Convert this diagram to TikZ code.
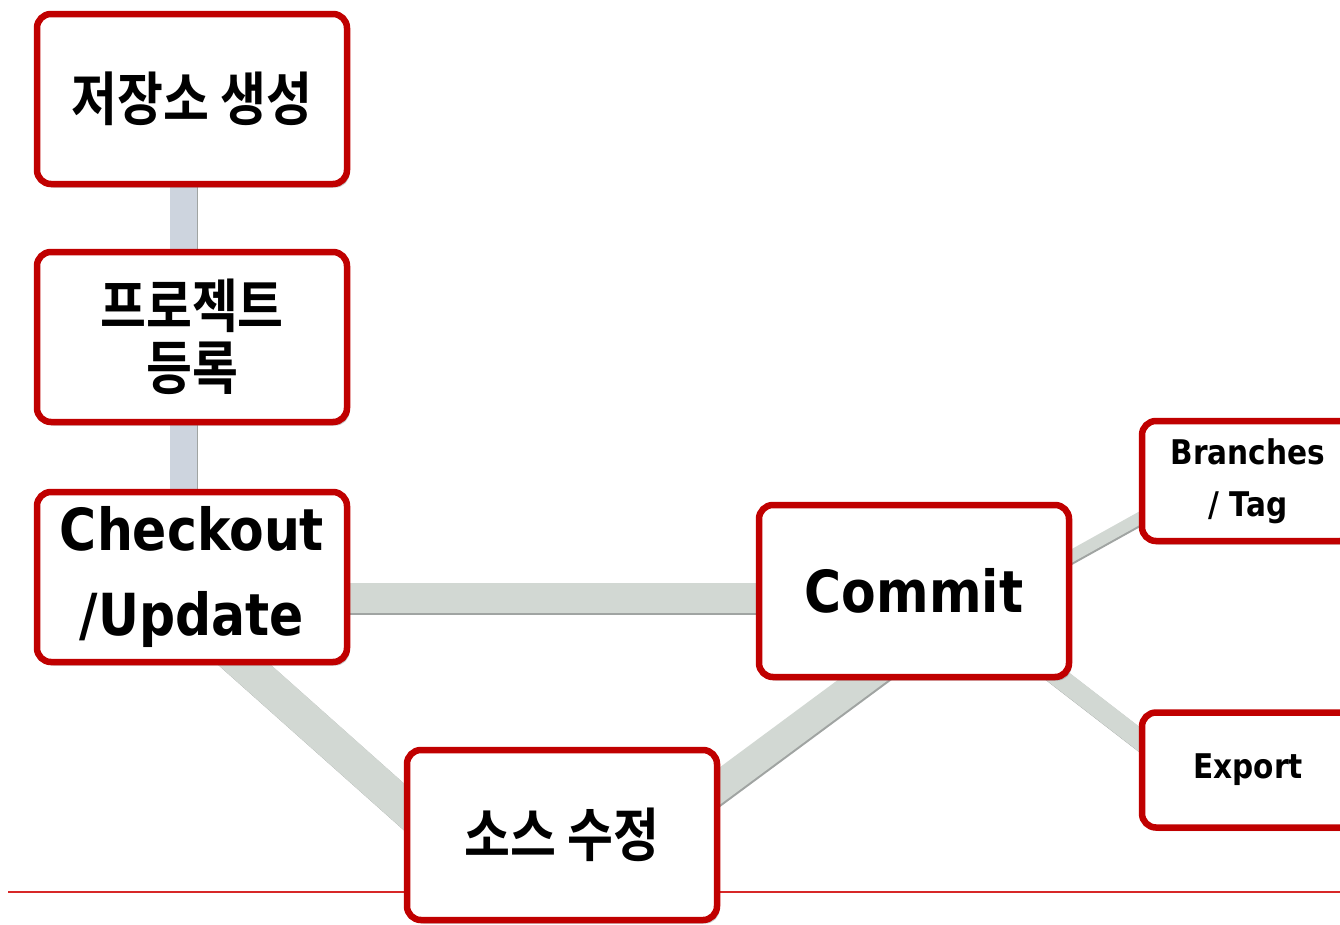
\documentclass[tikz,border=0pt]{standalone}
\usepackage{fontspec}
\newfontfamily\krfont[UprightFont=* Bold,FakeStretch=0.86]{Noto Sans CJK KR}
\newfontfamily\latfont[UprightFont=* Bold,FakeStretch=0.87]{DejaVu Sans}
\usetikzlibrary{shadows,calc}
\definecolor{boxred}{RGB}{192,0,0}
\definecolor{linered}{RGB}{215,40,40}
\definecolor{vgray}{RGB}{205,212,222}
\definecolor{cgray}{RGB}{210,216,211}
\definecolor{sgray}{RGB}{160,164,162}
\begin{document}
\begin{tikzpicture}[x=1pt,y=-1pt,
  box/.style={draw=boxred, line width=6.5pt, rounded corners=14pt, fill=white,
    minimum width=310pt, minimum height=170pt, align=center, inner sep=0pt,
    drop shadow={shadow xshift=2.5pt,shadow yshift=-3.5pt,opacity=0.45}},
  kr/.style={font=\krfont\fontsize{58}{62}\selectfont},
  lat/.style={font=\latfont\fontsize{58}{85}\selectfont},
  latsmall/.style={font=\latfont\fontsize{34}{52}\selectfont},
  conn/.style={line width=#1, draw=cgray,
    preaction={draw=sgray, line width=#1, transform canvas={xshift=1.5pt,yshift=-1.5pt}}},
  vconn/.style={line width=#1, draw=vgray,
    preaction={draw=sgray, line width=#1, transform canvas={xshift=1.5pt}}},
  rule/.style={draw=linered, line width=2pt}]
\useasboundingbox (0,0) rectangle (1340,924);
\clip (0,0) rectangle (1340,924);

% node positions
\path (192,99) coordinate (repoC) (192,337) coordinate (projC) (192,577) coordinate (chkC)
      (914,591) coordinate (comC) (562,835) coordinate (srcC)
      (1248,481) coordinate (brC) (1248,770) coordinate (expC);

% connectors
\draw[vconn=27pt] ($(repoC)+(-9,0)$) -- ($(projC)+(-9,0)$);
\draw[vconn=27pt] ($(projC)+(-9,0)$) -- ($(chkC)+(-9,0)$);
\draw[conn=30pt] ($(chkC)+(0,21)$) -- ($(comC)+(0,7)$);
\draw[conn=35pt] ($(chkC)+(28,66)$) -- ($(srcC)+(-132,-5)$);
\draw[conn=30pt] ($(comC)+(-24,69)$) -- ($(srcC)+(128,-27)$);
\draw[conn=12pt] ($(comC)+(136,-23)$) -- ($(brC)+(-83,23)$);
\draw[conn=20pt] ($(comC)+(116,64)$) -- ($(expC)+(-78,-7)$);

% bottom rule
\coordinate (ruleL) at (8,892);
\coordinate (ruleR) at (1340,892);
\draw[rule] (ruleL) -- (ruleR);

% boxes
\node[box, kr] (repo) at (repoC) {저장소 생성};
\node[box, kr] (proj) at (projC) {프로젝트\\등록};
\node[box, lat] (chk) at (chkC) {Checkout\\/Update};
\node[box, lat, minimum height=172pt] (com) at (comC) {Commit};
\node[box, kr, minimum height=170pt] (src) at (srcC) {소스 수정};
\node[box, latsmall, minimum width=212pt, minimum height=120pt] (br) at (brC) {Branches\\/ Tag};
\node[box, latsmall, minimum width=212pt, minimum height=115pt] (exp) at (expC) {Export};
\end{tikzpicture}
\end{document}
